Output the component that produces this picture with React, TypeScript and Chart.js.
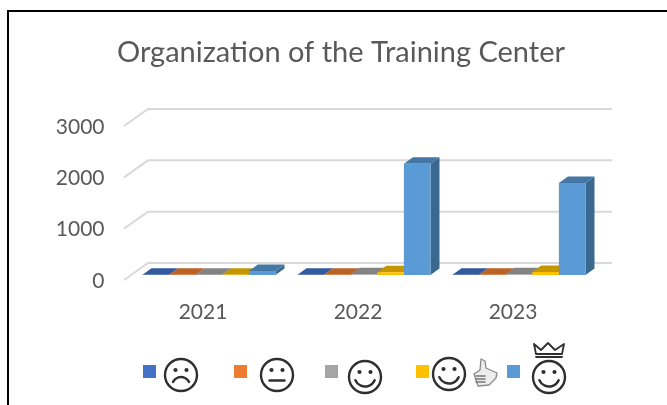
import React, { useEffect, useRef } from "react";
import { Chart, registerables } from "chart.js";

Chart.register(...registerables);

const chartTitle = "Organization of the Training Center";
const categories = ["2021", "2022", "2023"];
const seriesNames = ["Very dissatisfied", "Dissatisfied", "Satisfied", "Very satisfied", "Delighted"];
const verySad = [5, 5, 5];
const neutral = [5, 5, 5];
const happy = [5, 15, 15];
const thumbsUp = [5, 55, 60];
const crowned = [80, 2165, 1790];
const seriesValues = [verySad, neutral, happy, thumbsUp, crowned];
const frontColors = ["#4472C4", "#ED7D31", "#A5A5A5", "#FFC000", "#5B9BD5"];
const topColors = ["#335A9E", "#BD6225", "#838383", "#C59600", "#4577A6"];
const sideColors = ["#2B4C85", "#A05320", "#6E6E6E", "#A67E00", "#3A688F"];
const faceKinds = ["sad", "flat", "smile", "thumb", "crown"];
const legendSwatchX = [143, 234, 325, 416, 507];
const legendFaces = [
  { x: 181, y: 375 },
  { x: 277, y: 375 },
  { x: 365, y: 377 },
  { x: 449, y: 374 },
  { x: 549, y: 377 },
];

const FONT = "Lato, Carlito, sans-serif";
const TEXT = "#595959";
const DX = 9;
const DY = 6.5;

function poly(ctx: CanvasRenderingContext2D, pts: number[][], fill: string) {
  ctx.beginPath();
  pts.forEach((p, i) => (i ? ctx.lineTo(p[0], p[1]) : ctx.moveTo(p[0], p[1])));
  ctx.closePath();
  ctx.fillStyle = fill;
  ctx.fill();
}

function drawFace(ctx: CanvasRenderingContext2D, x: number, y: number, kind: string) {
  const r = 16;
  ctx.save();
  ctx.strokeStyle = "#2f2f2f";
  ctx.fillStyle = "#2f2f2f";
  ctx.lineWidth = 2.4;
  ctx.lineCap = "round";
  ctx.lineJoin = "round";
  ctx.beginPath();
  ctx.arc(x, y, r, 0, Math.PI * 2);
  ctx.stroke();
  [-5.5, 5.5].forEach((d) => {
    ctx.beginPath();
    ctx.arc(x + d, y - 5, 2.1, 0, Math.PI * 2);
    ctx.fill();
  });
  ctx.beginPath();
  if (kind === "sad") {
    ctx.arc(x, y + 11, 9, Math.PI * 1.15, Math.PI * 1.85);
  } else if (kind === "flat") {
    ctx.moveTo(x - 7.5, y + 5.5);
    ctx.lineTo(x + 7.5, y + 5.5);
  } else {
    ctx.arc(x, y - 1, 10.5, Math.PI * 0.13, Math.PI * 0.87);
  }
  ctx.stroke();
  if (kind === "thumb") {
    const tx = 485;
    const ty = y + 1;
    ctx.strokeStyle = "#8a8a8a";
    ctx.lineWidth = 1.3;
    ctx.fillStyle = "#ededed";
    ctx.beginPath();
    ctx.moveTo(tx - 11, ty - 1);
    ctx.lineTo(tx - 5, ty - 5);
    ctx.lineTo(tx - 4, ty - 16);
    ctx.lineTo(tx, ty - 14);
    ctx.lineTo(tx + 1, ty - 7);
    ctx.lineTo(tx + 12, ty - 2);
    ctx.lineTo(tx + 11, ty + 3);
    ctx.lineTo(tx + 4, ty + 10);
    ctx.lineTo(tx - 7, ty + 11);
    ctx.closePath();
    ctx.fill();
    ctx.stroke();
    ctx.strokeStyle = "#777";
    ctx.lineWidth = 1.5;
    [1, 4, 7].forEach((d) => {
      ctx.beginPath();
      ctx.moveTo(tx - 9, ty + d);
      ctx.lineTo(tx, ty + d);
      ctx.stroke();
    });
  }
  if (kind === "crown") {
    ctx.lineWidth = 1.8;
    ctx.beginPath();
    ctx.moveTo(x - 15, y - 33);
    ctx.lineTo(x - 8, y - 27);
    ctx.lineTo(x - 1, y - 34);
    ctx.lineTo(x + 6, y - 27);
    ctx.lineTo(x + 15, y - 33);
    ctx.lineTo(x + 13, y - 23);
    ctx.lineTo(x - 13, y - 23);
    ctx.closePath();
    ctx.stroke();
    ctx.beginPath();
    ctx.moveTo(x - 13, y - 20);
    ctx.lineTo(x + 13, y - 20);
    ctx.stroke();
  }
  ctx.restore();
}

const depthPlugin = {
  id: "depth",
  afterLayout(chart: any) {
    chart.scales.y.left = 0;
  },
  beforeDatasetsDraw(chart: any) {
    const { ctx, chartArea, scales } = chart;
    ctx.save();
    ctx.strokeStyle = "#D9D9D9";
    ctx.lineWidth = 2;
    ctx.lineJoin = "miter";
    scales.y.ticks.forEach((t: any) => {
      const y = scales.y.getPixelForValue(t.value);
      ctx.beginPath();
      ctx.moveTo(chartArea.left - 7.5, y + 5);
      ctx.lineTo(chartArea.left + 16.5, y - 12);
      ctx.lineTo(chartArea.right + 15.5, y - 12);
      ctx.stroke();
    });
    chart.data.datasets.forEach((_: any, i: number) => {
      chart.getDatasetMeta(i).data.forEach((bar: any) => {
        const l = bar.x - bar.width / 2;
        const r = bar.x + bar.width / 2;
        const t = bar.y;
        const b = bar.base;
        poly(ctx, [[r, t], [r + DX, t - DY], [r + DX, b - DY], [r, b]], sideColors[i]);
        poly(ctx, [[l, t], [l + DX, t - DY], [r + DX, t - DY], [r, t]], topColors[i]);
      });
    });
    ctx.restore();
  },
  afterDraw(chart: any) {
    const { ctx } = chart;
    frontColors.forEach((c, i) => {
      ctx.fillStyle = c;
      ctx.fillRect(legendSwatchX[i], 365, 13, 13);
      drawFace(ctx, legendFaces[i].x, legendFaces[i].y, faceKinds[i]);
    });
  },
};

export default function App() {
  const ref = useRef<HTMLCanvasElement>(null);
  useEffect(() => {
    const chart = new Chart(ref.current!, {
      type: "bar",
      data: {
        labels: categories,
        datasets: seriesValues.map((data, i) => ({
          label: seriesNames[i],
          data,
          backgroundColor: frontColors[i],
          borderWidth: 0,
          categoryPercentage: 0.858,
          barPercentage: 1,
        })),
      },
      options: {
        responsive: false,
        animation: false,
        layout: { padding: { left: 85.5, right: 70.5, top: 0, bottom: 0 } },
        plugins: {
          legend: { display: false },
          tooltip: { enabled: false },
          title: {
            display: true,
            text: chartTitle,
            color: TEXT,
            font: { family: FONT, size: 29, weight: "normal" },
            padding: { top: 35, bottom: 51.2 },
          },
        },
        scales: {
          x: {
            grid: { display: false },
            border: { display: false },
            afterFit: (s: any) => {
              s.height = 130;
            },
            ticks: { color: TEXT, padding: 17, labelOffset: -6, font: { family: FONT, size: 21 }, maxRotation: 0 },
          },
          y: {
            min: 0,
            max: 3000,
            grid: { display: false, drawTicks: false },
            border: { display: false },
            afterFit: (s: any) => {
              s.width = 46;
            },
            ticks: {
              stepSize: 1000,
              color: TEXT,
              padding: 27,
              labelOffset: 6,
              font: { family: FONT, size: 21 },
              callback: (v: any) => String(v),
            },
          },
        },
      } as any,
      plugins: [depthPlugin],
    });
    return () => chart.destroy();
  }, []);
  return (
    <div style={{ position: "fixed", left: 0, top: 0, width: 667, height: 405, overflow: "hidden", background: "#fff" }}>
      <canvas ref={ref} width={667} height={405} style={{ display: "block", position: "absolute", left: 0, top: 0 }} />
      <div
        style={{
          position: "absolute",
          left: 7,
          top: 10,
          width: 700,
          height: 500,
          borderLeft: "2px solid #000",
          borderTop: "2px solid #000",
          pointerEvents: "none",
        }}
      />
    </div>
  );
}
